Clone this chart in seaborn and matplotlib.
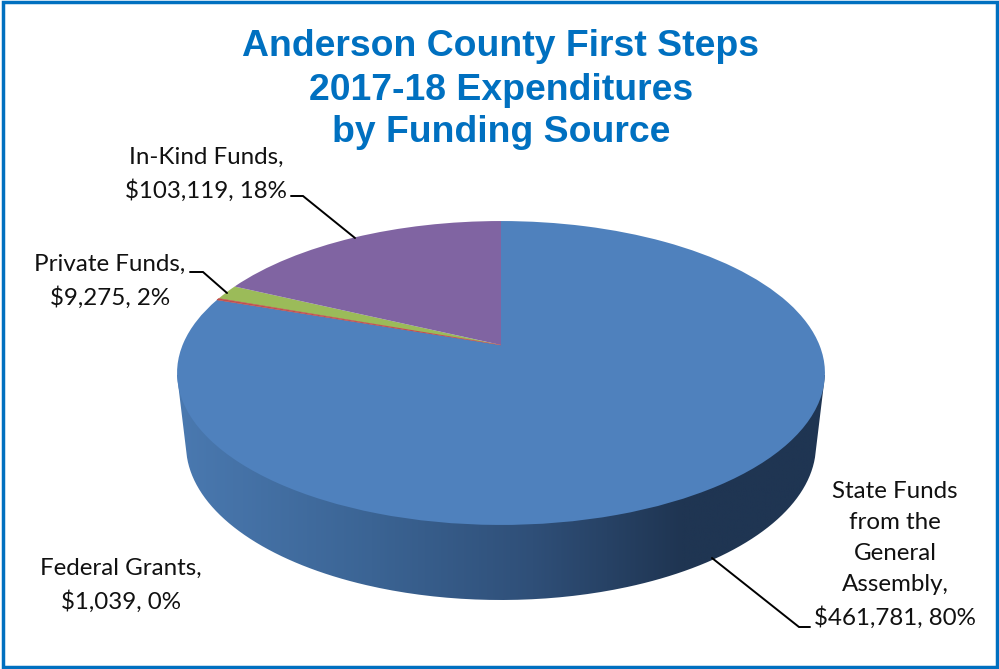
import numpy as np
import matplotlib
matplotlib.use("Agg")
import matplotlib.pyplot as plt
import seaborn as sns
from matplotlib.colors import LinearSegmentedColormap
from matplotlib.patches import PathPatch, Rectangle
from matplotlib.path import Path
from matplotlib.transforms import Transform

sources = ["State Funds\nfrom the\nGeneral\nAssembly", "Federal Grants", "Private Funds", "In-Kind Funds"]
amounts = [461781, 1039, 9275, 103119]
slice_colors = ["#4F81BD", "#C0504D", "#9BBB59", "#8064A2"]
title_lines = ["Anderson County First Steps", "2017-18 Expenditures", "by Funding Source"]
BLUE = "#0070C0"

sns.set_theme(style="white")
plt.rcParams["font.family"] = ["Lato", "DejaVu Sans"]


# tilts the flat unit pie into the picture's perspective, output in pixels
class Tilt(Transform):
    input_dims = output_dims = 2

    def transform_non_affine(self, pts):
        pts = np.asarray(pts)
        d = 1 + 0.1842 * pts[:, 1]
        return np.column_stack([501 + 318.4 * pts[:, 0] / d, 345 - 146.8 * pts[:, 1] / d])


fig = plt.figure(figsize=(9.99, 6.69), dpi=100, facecolor="white")
ax = fig.add_axes([0, 0, 1, 1])

### side of the pie, gradient clipped to the band ###
t = np.linspace(0.08, np.pi - 0.08, 200)
bottom = np.column_stack([501 + 315 * np.cos(t), 445 + 155 * np.sin(t)])
band = np.vstack([[[825, 375]], bottom, [[177, 375]], [[825, 375]]])
side_cmap = LinearSegmentedColormap.from_list(
    "side", [(0, "#4A79B0"), (0.3, "#3B6494"), (0.55, "#2F4F78"), (0.78, "#1F3552"), (1, "#1F3552")]
)
img = ax.imshow(np.linspace(0, 1, 256)[None, :], cmap=side_cmap, extent=[177, 825, 610, 370], aspect="auto", zorder=1)
clip = PathPatch(Path(band), transform=ax.transData, facecolor="none", edgecolor="none")
ax.add_patch(clip)
img.set_clip_path(clip)

### top face ###
wedges, _ = ax.pie(amounts, colors=slice_colors, startangle=90, counterclock=False, radius=1, normalize=True)
tilt = Tilt()
for w in wedges:
    w.set_transform(tilt + ax.transData)
    w.set_zorder(2)
    w.set_linewidth(0)
# the federal sliver is under a pixel wide otherwise
wedges[1].set_edgecolor(slice_colors[1])
wedges[1].set_linewidth(0.4)
wedges[1].set_zorder(3)

ax.set_aspect("auto")
ax.set_xlim(0, 999)
ax.set_ylim(669, 0)
ax.axis("off")

### labels ###
total = sum(amounts)
labels = [f"{s},\n${a:,}, {round(100 * a / total)}%" for s, a in zip(sources, amounts)]
label_pos = [(895, 555), (121, 585), (110, 281), (206, 174)]
for txt, (x, y) in zip(labels, label_pos):
    ax.text(x, y, txt, ha="center", va="center", fontsize=17.4, color="#111111", linespacing=1.6, zorder=5)

leaders = [
    ([712, 799, 810], [558, 627, 627]),
    ([190, 203, 227], [272, 272, 293]),
    ([291, 303, 355], [196, 196, 238]),
]
for xs, ys in leaders:
    ax.plot(xs, ys, color="black", lw=1.4, zorder=4, solid_joinstyle="miter")

### title and frame ###
for line, y in zip(title_lines, [47, 90, 133]):
    ax.text(501, y, line, ha="center", va="center", fontsize=26.9, fontweight="bold", color=BLUE,
            family=["Liberation Sans"], zorder=5)

ax.add_patch(Rectangle((3, 2), 994, 665, fill=False, edgecolor=BLUE, lw=2.5, zorder=6))

fig.savefig("out.png", dpi=100)
